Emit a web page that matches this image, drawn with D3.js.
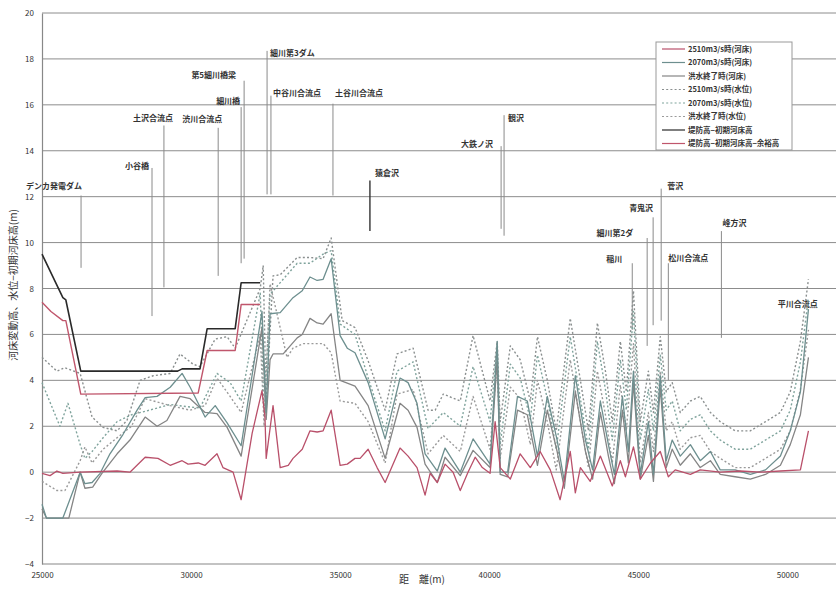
<!DOCTYPE html>
<html>
<head>
<meta charset="utf-8">
<script src="https://cdn.jsdelivr.net/npm/d3@7"></script>
<style>
  body { margin: 0; background: #fff; }
  svg text { font-family: "Noto Sans CJK JP", "DejaVu Sans", sans-serif; }
</style>
</head>
<body>
<svg id="chart" width="840" height="591"></svg>
<script>
// distance (m), value (m)
const leveeHeight = [[25000,9.5],[25700,7.6],[25800,7.5],[26300,4.4],[29550,4.4],[29700,4.5],[30300,4.5],[30540,6.25],[31480,6.25],[31680,8.25],[32320,8.25]];
const leveeFreeboard = [[25000,7.4],[25300,7.0],[25700,6.6],[25800,6.6],[26300,3.4],[30240,3.45],[30540,5.3],[31480,5.3],[31680,7.3],[32320,7.3]];

const bed2510 = [[25000,-0.05],[25270,-0.15],[25500,0.05],[25700,-0.05],[26280,0],[27520,0.05],[27950,0],[28460,0.65],[28890,0.6],[29300,0.3],[29700,0.5],[29900,0.35],[30240,0.4],[30470,0.3],[30870,0.8],[31070,0.2],[31410,0],[31680,-1.2],[32050,1.7],[32380,3.55],[32480,2.4],[32520,0.6],[32750,2.9],[32990,0.2],[33260,0.3],[33420,0.6],[33730,1.0],[33990,1.8],[34230,1.75],[34430,1.8],[34700,2.7],[35000,0.3],[35240,0.35],[35500,0.6],[35670,0.6],[35940,1.0],[36240,0.2],[36510,-0.45],[37010,1.05],[37280,0.7],[37580,0.2],[37850,-1.0],[38020,-0.05],[38260,-0.45],[38520,0.35],[38790,0],[39030,-0.8],[39290,0],[39530,0.65],[39770,0.2],[40030,-0.05],[40200,2.2],[40370,0.2],[40710,-0.3],[41040,0.8],[41380,0.2],[41710,0.9],[42050,0.1],[42380,-1.2],[42720,0.9],[42890,-0.9],[43060,0.2],[43390,-0.4],[43730,0.7],[44130,-0.6],[44400,0.5],[44570,-0.2],[44840,1.1],[45070,-0.3],[45410,0.4],[45740,0.9],[46010,-0.2],[46240,0.1],[46750,-0.1],[47080,0.1],[47750,0],[48420,0.05],[49100,0],[49770,0.05],[50440,0.1],[50710,1.8]];

const bed2070 = [[25000,-1.4],[25150,-2.0],[25700,-2.0],[26280,0],[26440,-0.5],[26680,-0.45],[26950,-0.05],[27280,0.8],[27720,1.65],[28190,2.7],[28460,3.25],[28860,3.3],[29300,3.7],[29700,4.3],[29970,3.7],[30470,2.4],[30810,2.9],[31210,2.15],[31680,1.15],[32380,7.0],[32520,2.6],[32650,6.9],[32990,6.95],[33420,7.6],[33730,7.9],[33990,8.5],[34230,8.35],[34430,8.4],[34700,9.3],[35000,5.95],[35240,5.4],[35500,5.2],[35940,3.9],[36510,1.45],[37010,4.1],[37280,3.9],[37580,3.0],[37850,0.8],[38260,0.05],[38520,1.05],[39030,0],[39460,1.45],[40030,0.35],[40270,5.7],[40370,0],[40620,0],[40950,3.3],[41280,3.1],[41620,0.7],[41950,3.3],[42280,1.4],[42520,-0.4],[42890,4.2],[43230,1.4],[43470,0.1],[43730,3.1],[44000,1.2],[44200,-0.1],[44470,3.3],[44670,0.9],[44840,4.4],[45070,-0.1],[45340,2.2],[45510,-0.1],[45740,4.2],[45940,0.5],[46140,1.4],[46410,0.7],[46750,1.2],[47080,0.5],[47420,0.9],[47750,0.1],[48250,0.1],[48760,-0.1],[49270,0.1],[49770,0.7],[50100,1.8],[50440,3.5],[50710,7.1]];

const bedEnd = [[25000,-1.6],[25150,-2.0],[25900,-2.0],[26280,0],[26440,-0.7],[26700,-0.65],[27010,-0.05],[27520,0.8],[27950,1.4],[28460,2.4],[28860,2.0],[29190,2.25],[29630,3.3],[29970,3.2],[30470,2.6],[30870,2.55],[31210,1.95],[31680,0.7],[32380,6.3],[32520,2.3],[32650,4.9],[32750,5.15],[33090,5.15],[33560,5.85],[33730,6.0],[33990,6.7],[34230,6.5],[34430,6.45],[34700,6.9],[35000,4.0],[35500,3.75],[35940,2.9],[36510,0.6],[37010,3.0],[37280,2.7],[37580,1.95],[37850,0.35],[38260,-0.45],[38520,0.65],[39030,-0.15],[39460,0.95],[40030,0.2],[40270,5.0],[40370,-0.1],[40620,-0.2],[40950,2.7],[41280,2.5],[41620,0.3],[41950,2.7],[42280,0.9],[42520,-0.7],[42890,3.5],[43230,0.9],[43470,-0.3],[43730,2.6],[44000,0.7],[44200,-0.5],[44470,2.7],[44670,0.4],[44840,3.9],[45070,-0.3],[45340,1.6],[45510,-0.4],[45740,3.7],[45940,0.2],[46140,1.0],[46410,0.3],[46750,0.8],[47080,0.2],[47420,0.5],[47750,-0.1],[48250,-0.2],[48760,-0.3],[49270,-0.1],[49770,0.3],[50100,1.2],[50440,2.5],[50710,5.0]];

const wl2510 = [[25000,5.0],[25500,4.4],[25770,4.55],[26280,4.3],[26680,2.4],[27050,1.95],[27520,1.8],[27850,2.25],[28290,4.0],[28730,4.2],[29300,4.3],[29630,5.15],[30070,4.7],[30300,4.6],[30810,5.8],[31210,5.9],[31480,5.4],[32320,8.0],[32420,9.0],[32520,3.0],[32750,8.55],[32990,8.6],[33560,9.35],[33990,9.35],[34430,9.3],[34700,10.2],[35070,6.6],[35500,6.3],[35940,4.85],[36510,2.7],[36910,5.15],[37450,5.4],[37950,2.7],[38190,2.7],[38460,3.4],[39030,3.1],[39460,5.95],[40030,3.1],[40270,5.7],[40370,2.2],[40710,5.5],[41040,4.9],[41380,3.1],[41620,5.9],[41950,4.0],[42250,1.8],[42720,6.7],[43060,4.0],[43330,1.8],[43630,6.5],[43900,4.4],[44130,2.2],[44400,5.7],[44600,3.5],[44840,7.9],[45070,2.2],[45340,4.4],[45510,2.6],[45740,5.9],[45940,3.5],[46140,3.9],[46410,2.6],[46750,3.1],[47080,3.3],[47420,2.6],[47750,2.2],[48250,1.8],[48760,1.8],[49270,2.2],[49770,2.6],[50100,3.5],[50440,5.7],[50710,8.4]];

const wl2070 = [[25000,3.9],[25600,2.0],[25870,3.0],[26280,1.2],[26440,0.6],[26680,0.9],[27050,1.5],[27520,2.2],[28000,2.5],[28460,2.65],[29300,2.95],[29870,2.85],[30300,2.8],[30870,4.3],[31310,3.9],[31680,3.1],[32320,7.8],[32450,2.6],[32650,7.75],[33090,8.4],[33560,9.1],[33990,9.1],[34430,9.5],[34700,9.65],[35000,6.45],[35500,6.0],[35940,4.1],[36510,1.8],[36910,4.4],[37450,4.8],[37950,1.9],[38460,2.6],[39030,2.0],[39460,4.6],[40030,2.2],[40270,5.5],[40370,1.2],[40710,4.7],[41040,4.1],[41380,2.3],[41620,5.1],[41950,3.2],[42250,1.0],[42720,5.9],[43060,3.2],[43330,1.0],[43630,5.7],[43900,3.6],[44130,1.4],[44400,4.9],[44600,2.7],[44840,7.0],[45070,1.4],[45340,3.6],[45510,1.8],[45740,5.1],[45940,2.7],[46140,3.1],[46410,1.8],[46750,2.3],[47080,2.5],[47420,1.8],[47750,1.4],[48250,1.0],[48760,1.0],[49270,1.4],[49770,1.8],[50100,2.7],[50440,4.8],[50710,7.6]];

const wlEnd = [[25000,-0.4],[25500,-0.8],[25770,-0.8],[26280,0.5],[26440,1.1],[26680,0.4],[27050,1.0],[27520,1.5],[28000,2.0],[28460,3.2],[29300,2.9],[29970,2.7],[30470,2.9],[30870,4.1],[31310,3.3],[31680,2.6],[32320,6.0],[32450,2.0],[32650,8.2],[33220,5.0],[33420,5.4],[33760,5.6],[34430,5.6],[34700,5.2],[35000,3.1],[35500,3.0],[35940,2.2],[36510,0.4],[36910,3.4],[37450,3.6],[37950,0.8],[38460,1.6],[39030,0.9],[39460,3.3],[40030,1.0],[40270,4.8],[40370,0.6],[40710,3.7],[41040,3.2],[41380,1.2],[41620,4.0],[41950,2.2],[42250,0.1],[42720,4.9],[43060,2.2],[43330,0.2],[43630,4.4],[43900,2.5],[44130,0.4],[44400,3.8],[44600,1.8],[44840,5.6],[45070,0.4],[45340,2.6],[45510,0.9],[45740,4.4],[45940,1.8],[46140,2.2],[46410,1.0],[46750,1.5],[47080,1.6],[47420,0.9],[47750,0.6],[48250,0.2],[48760,0.2],[49270,0.6],[49770,1.0],[50100,1.8],[50440,3.6],[50710,6.2]];

// landmarks: name, distance, line top, line bottom
const landmarkNames = ["デンカ発電ダム","小谷橋","土沢合流点","渋川合流点","第5細川橋梁","細川橋","細川第3ダム","中谷川合流点","土谷川合流点","猿倉沢","大鉄ノ沢","観沢","菅沢","青鬼沢","細川第2ダ","稲川","松川合流点","峰方沢","平川合流点"];
const landmarkDist = [26310,28690,29090,30910,31780,31680,32550,32680,34760,36000,40400,40500,45770,45500,45300,44800,46010,47790,50350];
const landmarkTop = [12.05,13.25,15.1,15.0,17.05,15.9,18.35,16.4,16.05,12.7,14.2,15.55,12.35,11.1,10.2,9.1,9.1,10.5,null];
const landmarkBottom = [8.9,6.8,8.05,8.55,9.3,9.1,12.1,12.1,12.05,10.5,10.6,10.3,6.6,6.4,5.5,6.2,4.0,5.85,null];
// label placement (px offset from line top, anchor)
const labelLayout = [[1,-7,"end"],[-3,1,"end"],[9,-4,"end"],[4,-6,"end"],[-8,-3,"end"],[-1,-3,"end"],[3,5,"start"],[2,0,"start"],[2,-8,"start"],[5,-5,"start"],[-8,1,"end"],[4,6,"start"],[6,0,"start"],[0,-6,"end"],[-14,-2,"end"],[-10,-1,"end"],[0,-2,"start"],[1,-5,"start"],[0,0,"middle"]];

const yTicks = [-4,-2,0,2,4,6,8,10,12,14,16,18,20];
const xTicks = [25000,30000,35000,40000,45000,50000];

const legendLabels = ["2510m3/s時(河床)","2070m3/s時(河床)","洪水終了時(河床)","2510m3/s時(水位)","2070m3/s時(水位)","洪水終了時(水位)","堤防高−初期河床高","堤防高−初期河床高−余裕高"];

const series = [
  { data: wl2510, color: "#8a8f8f", dash: "2,2.2", width: 1.4 },
  { data: wl2070, color: "#7fa39c", dash: "2,2.2", width: 1.4 },
  { data: wlEnd, color: "#9a9a9a", dash: "2,2.2", width: 1.4 },
  { data: bedEnd, color: "#858585", dash: null, width: 1.3 },
  { data: bed2070, color: "#6d8f8f", dash: null, width: 1.3 },
  { data: bed2510, color: "#b9506a", dash: null, width: 1.3 },
  { data: leveeFreeboard, color: "#c0566c", dash: null, width: 1.4 },
  { data: leveeHeight, color: "#2a2a2a", dash: null, width: 1.6 }
];
const legendStyles = [
  { color: "#b9506a", dash: null }, { color: "#6d8f8f", dash: null }, { color: "#858585", dash: null },
  { color: "#8a8f8f", dash: "2,2.2" }, { color: "#7fa39c", dash: "2,2.2" }, { color: "#9a9a9a", dash: "2,2.2" },
  { color: "#2a2a2a", dash: null }, { color: "#c0566c", dash: null }
];

const svg = d3.select("#chart");
const x = d3.scaleLinear().domain([25000, 51500]).range([42, 832]);
const y = d3.scaleLinear().domain([-4, 20]).range([564, 13]);

// gridlines
svg.append("g")
  .selectAll("line")
  .data(yTicks.filter(d => d > -4))
  .join("line")
  .attr("x1", x(25000)).attr("x2", 836)
  .attr("y1", d => y(d)).attr("y2", d => y(d))
  .attr("stroke", "#8c8c8c").attr("stroke-width", 1);

// axes
const yAxis = svg.append("g")
  .attr("transform", `translate(${x(25000)},0)`)
  .call(d3.axisLeft(y).tickValues(yTicks).tickSize(0).tickPadding(8));
const xAxis = svg.append("g")
  .attr("transform", `translate(0,${y(-4)})`)
  .call(d3.axisBottom(x).tickValues(xTicks).tickSize(0).tickPadding(8).tickFormat(d3.format("d")));
[yAxis, xAxis].forEach(g => {
  g.select(".domain").attr("stroke", "#888").attr("stroke-width", 1.2);
  g.selectAll("text").attr("font-size", 8).attr("fill", "#333")
    .attr("font-family", "'Liberation Sans', Arial, sans-serif");
});
xAxis.select(".domain").attr("d", `M${x(25000)},0H836`);

// landmark lines and labels
landmarkNames.forEach((name, i) => {
  const lx = x(landmarkDist[i]);
  const top = landmarkTop[i];
  const [dx, dy, anchor] = labelLayout[i];
  let ty;
  if (top !== null) {
    svg.append("line")
      .attr("x1", lx).attr("x2", lx)
      .attr("y1", y(top)).attr("y2", y(landmarkBottom[i]))
      .attr("stroke", name === "猿倉沢" ? "#333" : "#8a8a8a")
      .attr("stroke-width", name === "猿倉沢" ? 1.4 : 1);
    ty = y(top) + dy;
  } else {
    ty = 307;
  }
  svg.append("text")
    .attr("x", lx + dx).attr("y", ty)
    .attr("text-anchor", anchor)
    .attr("font-size", 8).attr("font-weight", "bold").attr("fill", "#333")
    .text(name);
});

// data lines
const line = d3.line().x(d => x(d[0])).y(d => y(d[1]));
svg.append("g")
  .selectAll("path")
  .data(series)
  .join("path")
  .attr("d", d => line(d.data))
  .attr("fill", "none")
  .attr("stroke", d => d.color)
  .attr("stroke-width", d => d.width)
  .attr("stroke-dasharray", d => d.dash)
  .attr("stroke-linejoin", "round");

// legend
const legend = svg.append("g").attr("transform", "translate(656,42)");
legend.append("rect")
  .attr("width", 136).attr("height", 108)
  .attr("fill", "#fff").attr("stroke", "#999").attr("stroke-width", 1);
legendLabels.forEach((label, i) => {
  const ly = 7 + i * 13.5;
  legend.append("line")
    .attr("x1", 6).attr("x2", 29).attr("y1", ly).attr("y2", ly)
    .attr("stroke", legendStyles[i].color)
    .attr("stroke-width", 1.2)
    .attr("stroke-dasharray", legendStyles[i].dash);
  legend.append("text")
    .attr("x", 32).attr("y", ly + 2.5)
    .attr("font-size", 7.5).attr("font-weight", "bold").attr("fill", "#333")
    .text(label);
});

// axis titles
svg.append("text")
  .attr("transform", "translate(17,285) rotate(-90)")
  .attr("text-anchor", "middle")
  .attr("font-size", 10).attr("fill", "#333")
  .text("河床変動高、水位−初期河床高(m)");
svg.append("text")
  .attr("x", 422).attr("y", 583)
  .attr("text-anchor", "middle")
  .attr("font-size", 10).attr("fill", "#333")
  .text("距　離(m)");
</script>
</body>
</html>
